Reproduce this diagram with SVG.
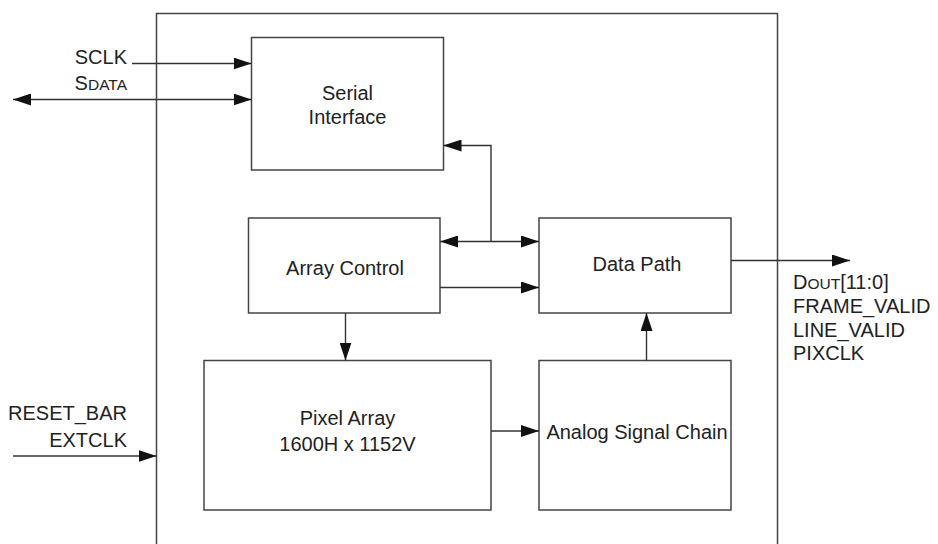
<svg xmlns="http://www.w3.org/2000/svg" width="938" height="544" viewBox="0 0 938 544">
<defs>
<marker id="ah" markerUnits="userSpaceOnUse" markerWidth="18" markerHeight="12" refX="18" refY="6" orient="auto-start-reverse">
<path d="M0,0 L18,6 L0,12 Z" fill="#111"/>
</marker>
</defs>
<style>
.box{fill:#fff;stroke:#444;stroke-width:1.5}
.ln{fill:none;stroke:#333;stroke-width:1.4}
text{font-family:"Liberation Sans",Arial,sans-serif;font-size:20px;fill:#222}
.c{text-anchor:middle}
.e{text-anchor:end}
.sc{font-size:15.5px}
</style>
<rect width="938" height="544" fill="#fff"/>
<g id="chip"><rect class="box" x="156.5" y="13.5" width="621" height="560"/></g>
<g id="serial"><rect class="box" x="251.5" y="37.5" width="192" height="132.5"/><text class="c" x="347.5" y="100">Serial</text><text class="c" x="347.5" y="124">Interface</text></g>
<g id="arrayctrl"><rect class="box" x="248.5" y="218" width="191.5" height="95"/><text class="c" x="345" y="275">Array Control</text></g>
<g id="datapath"><rect class="box" x="539" y="218" width="192" height="95"/><text class="c" x="637" y="271">Data Path</text></g>
<g id="pixel"><rect class="box" x="204" y="360.5" width="287" height="149.5"/><text class="c" x="347.5" y="425">Pixel Array</text><text class="c" x="347.5" y="451">1600H x 1152V</text></g>
<g id="analog"><rect class="box" x="539" y="360.5" width="192" height="149.5"/><text class="c" x="637" y="439">Analog Signal Chain</text></g>
<g id="labels">
<text class="e" x="127" y="64">SCLK</text>
<text class="e" x="127" y="90">S<tspan class="sc">DATA</tspan></text>
<text class="e" x="127" y="420">RESET_BAR</text>
<text class="e" x="127" y="447">EXTCLK</text>
<text x="793" y="289">D<tspan class="sc">OUT</tspan>[11:0]</text>
<text x="793" y="313">FRAME_VALID</text>
<text x="793" y="337">LINE_VALID</text>
<text x="793" y="360">PIXCLK</text>
</g>
<g id="connectors">
<path class="ln" d="M132,63.5 H251.5" marker-end="url(#ah)"/>
<path class="ln" d="M13,99.5 H251.5" marker-start="url(#ah)" marker-end="url(#ah)"/>
<path class="ln" d="M13,456 H156.5" marker-end="url(#ah)"/>
<path class="ln" d="M491,241.5 V145.5 H443.5" marker-end="url(#ah)"/>
<path class="ln" d="M440,241.5 H539" marker-start="url(#ah)" marker-end="url(#ah)"/>
<path class="ln" d="M440,287.5 H539" marker-end="url(#ah)"/>
<path class="ln" d="M345.5,313 V360.5" marker-end="url(#ah)"/>
<path class="ln" d="M491,431 H539" marker-end="url(#ah)"/>
<path class="ln" d="M646.5,360.5 V313" marker-end="url(#ah)"/>
<path class="ln" d="M731,260.5 H850" marker-end="url(#ah)"/>
</g>
</svg>
